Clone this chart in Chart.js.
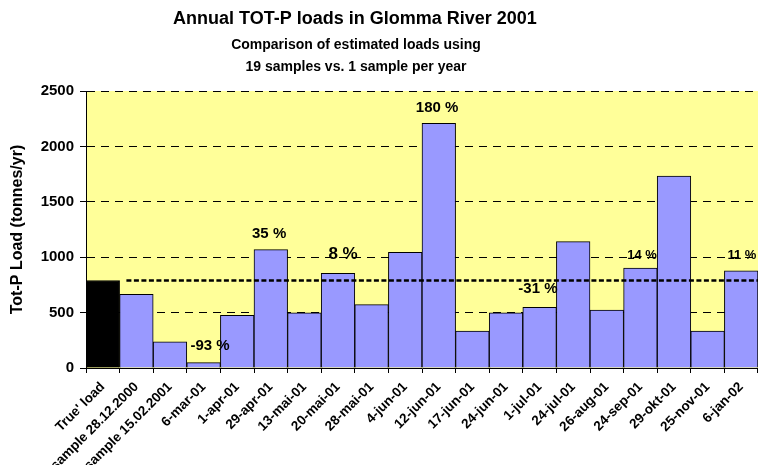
<!DOCTYPE html>
<html>
<head>
<meta charset="utf-8">
<script src="https://cdn.jsdelivr.net/npm/chart.js@4"></script>
<style>
  html, body { margin: 0; padding: 0; background: #fff; }
  #wrap { width: 758px; height: 465px; position: relative; }
</style>
</head>
<body>
<div id="wrap"><canvas id="c" width="758" height="465"></canvas></div>
<script>
const categories = ["True' load", "sample 28.12.2000", "sample 15.02.2001", "6-mar-01", "1-apr-01",
  "29-apr-01", "13-mai-01", "20-mai-01", "28-mai-01", "4-jun-01", "12-jun-01", "17-jun-01",
  "24-jun-01", "1-jul-01", "24-jul-01", "26-aug-01", "24-sep-01", "29-okt-01", "25-nov-01", "6-jan-02"];
const loads = [790, 665, 237, 48, 475, 1068, 499, 855, 572, 1044, 2208, 334, 499, 548, 1140, 523, 902, 1733, 334, 878];
const trueLoad = 790;
const yTicks = [0, 500, 1000, 1500, 2000, 2500];
const annoText = ['-93 %', '35 %', '8 %', '180 %', '-31 %', '14 %', '11 %'];
const annoPos = [3.19, 4.95, 7.15, 9.95, 12.95, 16.05, 19.02];
const annoValue = [199, 1209, 1029, 2347, 713, 1014, 1020];

const titleLines = ['Annual TOT-P loads in Glomma River 2001', 'Comparison of estimated loads using', '19 samples vs. 1 sample per year'];

const FONT = 'Arial, "Liberation Sans", sans-serif';

const bgPlugin = {
  id: 'bg',
  beforeDraw(chart) {
    const { ctx, chartArea: a } = chart;
    ctx.save();
    ctx.fillStyle = '#FFFF99';
    ctx.fillRect(a.left, a.top, a.right - a.left, a.bottom - a.top);
    ctx.restore();
  }
};

const overlayPlugin = {
  id: 'overlay',
  afterDatasetsDraw(chart) {
    const { ctx, chartArea: a } = chart;
    const xs = chart.scales.x, ys = chart.scales.y;
    ctx.save();
    const yLine = ys.getPixelForValue(trueLoad);
    ctx.strokeStyle = '#000';
    ctx.lineWidth = 2.5;
    ctx.setLineDash([5, 2.5]);
    ctx.beginPath();
    ctx.moveTo(xs.getPixelForValue(1) - 10, yLine);
    ctx.lineTo(a.right, yLine);
    ctx.stroke();
    ctx.setLineDash([]);
    ctx.fillStyle = '#000';
    ctx.textAlign = 'center';
    ctx.textBaseline = 'middle';
    annoText.forEach((t, i) => {
      const size = (t === '8 %') ? 17 : (t === '14 %' || t === '11 %') ? 13 : 15;
      ctx.font = 'bold ' + size + 'px ' + FONT;
      ctx.fillText(t, xs.getPixelForValue(annoPos[i]), ys.getPixelForValue(annoValue[i]));
    });
    ctx.restore();
  },
  afterDraw(chart) {
    const { ctx } = chart;
    ctx.save();
    ctx.fillStyle = '#000';
    ctx.textAlign = 'center';
    ctx.textBaseline = 'middle';
    ctx.font = 'bold 18px ' + FONT;
    ctx.fillText(titleLines[0], 355, 19);
    ctx.font = 'bold 14px ' + FONT;
    ctx.fillText(titleLines[1], 356, 45);
    ctx.fillText(titleLines[2], 356, 67);
    ctx.restore();
  }
};

new Chart(document.getElementById('c'), {
  type: 'bar',
  data: {
    labels: categories,
    datasets: [{
      data: loads,
      backgroundColor: loads.map((v, i) => i === 0 ? '#000000' : '#9999FF'),
      borderColor: '#000',
      borderWidth: 1,
      categoryPercentage: 1.0,
      barPercentage: 1.0
    }]
  },
  plugins: [bgPlugin, overlayPlugin],
  options: {
    responsive: false,
    animation: false,
    devicePixelRatio: 1,
    layout: { padding: { top: 91, right: 0, left: 0, bottom: 0 } },
    plugins: {
      legend: { display: false },
      tooltip: { enabled: false },
      title: { display: false }
    },
    scales: {
      x: {
        offset: true,
        grid: {
          offset: true,
          drawOnChartArea: false,
          drawTicks: true,
          tickLength: 5,
          tickColor: '#000',
          color: '#000'
        },
        border: { color: '#000', width: 1 },
        ticks: {
          color: '#000',
          font: { family: FONT, size: 13.5, weight: 'bold' },
          maxRotation: 45,
          minRotation: 45,
          autoSkip: false,
          padding: 6
        },
        afterFit(scale) { scale.height = 97; scale.paddingRight = 0; scale.paddingLeft = 0; }
      },
      y: {
        min: 0,
        max: 2500,
        afterBuildTicks(scale) { scale.ticks = yTicks.map(v => ({ value: v })); },
        grid: {
          color: '#000',
          lineWidth: 1,
          tickColor: '#000',
          tickLength: 6,
          tickBorderDash: [],
        },
        border: { color: '#000', width: 1, dash: [8, 6] },
        ticks: {
          color: '#000',
          font: { family: FONT, size: 15, weight: 'bold' },
          padding: 6,
          callback: (v) => String(v)
        },
        title: {
          display: true,
          text: 'Tot-P Load (tonnes/yr)',
          color: '#000',
          font: { family: FONT, size: 16, weight: 'bold' },
          padding: { top: 8, bottom: 0 }
        },
        afterFit(scale) { scale.width = 86; scale.paddingTop = 0; scale.paddingBottom = 0; }
      }
    }
  }
});
</script>
</body>
</html>
